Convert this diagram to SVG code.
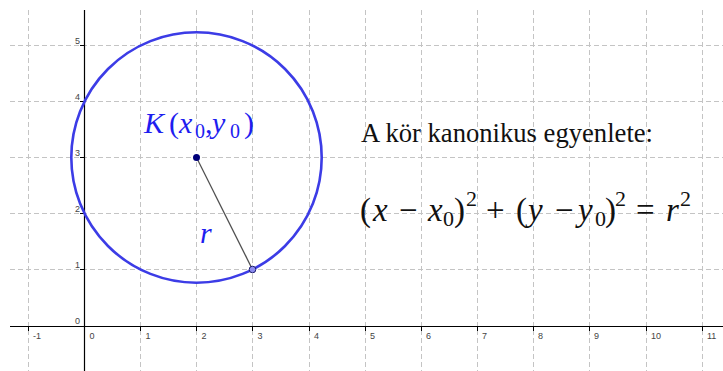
<svg xmlns="http://www.w3.org/2000/svg" width="723" height="371" viewBox="0 0 723 371">
<style>
.grid{stroke:#c4c4c4;stroke-width:1;stroke-dasharray:5,3;fill:none}
.axis{stroke:#000;stroke-width:1.2;fill:none}
.tick{stroke:#000;stroke-width:1}
.tl{font-family:"Liberation Sans",Arial,sans-serif;font-size:9px;fill:#444}
.math{font-family:"Liberation Serif","Times New Roman",serif;fill:#1e1ef0}
.eq{font-family:"Liberation Serif","Times New Roman",serif;fill:#111}
.it{font-style:italic}
</style>
<rect width="723" height="371" fill="#fff"/>
<g id="grid" class="grid">
<path d="M28.5 10V371M140.5 10V371M196.5 10V371M252.5 10V371M309.5 10V371M365.5 10V371M421.5 10V371M477.5 10V371M533.5 10V371M589.5 10V371M646.5 10V371M702.5 10V371"/>
<path d="M10 45.5H723M10 101.5H723M10 157.5H723M10 213.5H723M10 269.5H723"/>
</g>
<g id="axes">
<path class="axis" d="M84.5 10V371M10 326.5H723"/>
<path class="tick" d="M28.5 326V331M140.5 326V331M196.5 326V331M252.5 326V331M309.5 326V331M365.5 326V331M421.5 326V331M477.5 326V331M533.5 326V331M589.5 326V331M646.5 326V331M702.5 326V331M80 45.5H84M80 101.5H84M80 157.5H84M80 213.5H84M80 269.5H84"/>
<g class="tl">
<text x="33" y="339">-1</text>
<text x="89.5" y="339">0</text>
<text x="145.5" y="339">1</text>
<text x="201.5" y="339">2</text>
<text x="257.5" y="339">3</text>
<text x="314" y="339">4</text>
<text x="370" y="339">5</text>
<text x="426" y="339">6</text>
<text x="482" y="339">7</text>
<text x="538" y="339">8</text>
<text x="594" y="339">9</text>
<text x="651" y="339">10</text>
<text x="707" y="339">11</text>
<g text-anchor="end">
<text x="80" y="43.5">5</text>
<text x="80" y="99.5">4</text>
<text x="80" y="155.5">3</text>
<text x="80" y="211.5">2</text>
<text x="80" y="267.5">1</text>
<text x="80" y="324">0</text>
</g>
</g>
</g>
<g id="circle">
<circle cx="196.5" cy="157.5" r="125.2" fill="none" stroke="#3c3ce6" stroke-width="2.6"/>
</g>
<g id="connectors">
<line x1="196.5" y1="157.5" x2="252.5" y2="269.5" stroke="#505050" stroke-width="1.3"/>
</g>
<g id="center">
<circle cx="196.5" cy="157.5" r="3.5" fill="#00007a"/>
</g>
<g id="pointB">
<circle cx="252.5" cy="269.5" r="3.3" fill="#8c8cf0" stroke="#1e1e70" stroke-width="1"/>
</g>
<g id="labelK">
<text class="math" font-size="30" y="133"><tspan x="144" class="it">K</tspan><tspan x="169">(</tspan><tspan x="179" class="it">x</tspan><tspan x="195" y="138" font-size="20">0</tspan><tspan x="205" y="133">,</tspan><tspan x="212" class="it">y</tspan><tspan x="230" y="138" font-size="20">0</tspan><tspan x="244" y="133">)</tspan></text>
</g>
<g id="labelR">
<text class="math it" font-size="30" x="200" y="243">r</text>
</g>
<g id="title">
<text class="eq" font-size="26.5" x="361" y="142" textLength="292" lengthAdjust="spacingAndGlyphs">A kör kanonikus egyenlete:</text>
</g>
<g id="equation">
<text class="eq" font-size="33" y="221"><tspan x="360">(</tspan><tspan x="373" class="it">x</tspan><tspan x="399">−</tspan><tspan x="428" class="it">x</tspan><tspan x="443" y="226" font-size="22">0</tspan><tspan x="454" y="221">)</tspan><tspan x="466" y="206" font-size="22">2</tspan><tspan x="486" y="221">+</tspan><tspan x="516">(</tspan><tspan x="528" class="it">y</tspan><tspan x="555">−</tspan><tspan x="578" class="it">y</tspan><tspan x="595" y="226" font-size="22">0</tspan><tspan x="605" y="221">)</tspan><tspan x="615" y="206" font-size="22">2</tspan><tspan x="636" y="221">=</tspan><tspan x="666" class="it">r</tspan><tspan x="680" y="206" font-size="22">2</tspan></text>
</g>
</svg>
